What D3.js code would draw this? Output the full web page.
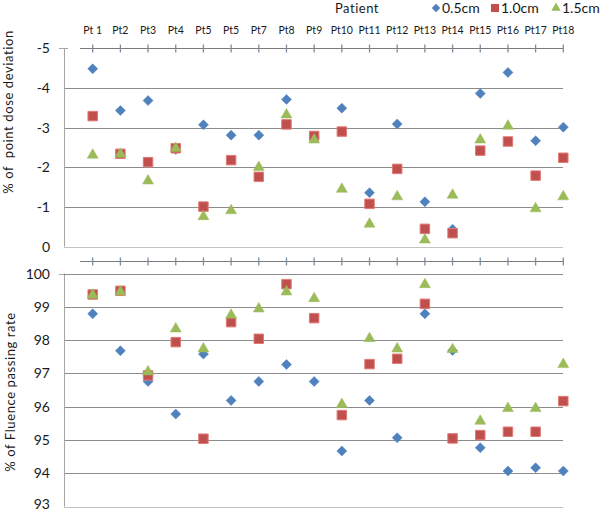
<!DOCTYPE html>
<html lang="en">
<head>
    <meta charset="UTF-8">
    <title>Point dose deviation and fluence passing rate</title>
    <script src="https://cdnjs.cloudflare.com/ajax/libs/d3/7.9.0/d3.min.js"></script>
    <style>
        body { margin: 0; background: white; }
        svg { display: block; font-family: Lato, "Open Sans", sans-serif; }
        .grid { stroke: #8c8c8c; stroke-width: 1; }
        .grid.base { stroke: #c4c4c4; }
        .yaxis { stroke: #a6a6a6; }
        .paxis { stroke: #7a7a7a; }
        .ptick { stroke: #7d8da0; stroke-width: 1.3; }
    </style>
</head>
<body>
<svg id="chart" width="604" height="513"></svg>
<script>
    const patients = ['Pt 1', 'Pt2', 'Pt3', 'Pt4', 'Pt5', 'Pt5', 'Pt7', 'Pt8', 'Pt9',
        'Pt10', 'Pt11', 'Pt12', 'Pt13', 'Pt14', 'Pt15', 'Pt16', 'Pt17', 'Pt18'];
    const seriesNames = ['0.5cm', '1.0cm', '1.5cm'];

    // % of point dose deviation
    const dose05 = [-4.48, -3.43, -3.68, -2.45, -3.07, -2.81, -2.81, -3.71, -2.75,
        -3.49, -1.36, -3.09, -1.13, -0.44, -3.86, -4.39, -2.67, -3.01];
    const dose10 = [-3.29, -2.34, -2.13, -2.48, -1.01, -2.18, -1.76, -3.08, -2.79,
        -2.90, -1.08, -1.96, -0.45, -0.34, -2.42, -2.65, -1.79, -2.24];
    const dose15 = [-2.31, -2.33, -1.66, -2.48, -0.76, -0.91, -2.00, -3.32, -2.69,
        -1.45, -0.57, -1.26, -0.17, -1.30, -2.69, -3.04, -0.96, -1.26];

    // % of fluence passing rate
    const flu05 = [98.79, 97.68, 96.76, 95.78, 97.58, 96.19, 96.76, 97.27, 96.76,
        94.67, 96.19, 95.07, 98.79, 97.69, 94.77, 94.07, 94.17, 94.07];
    const flu10 = [99.37, 99.48, 96.94, 97.94, 95.04, 98.54, 98.04, 99.68, 98.66,
        95.75, 97.28, 97.44, 99.09, 95.05, 95.15, 95.25, 95.25, 96.17];
    const flu15 = [99.35, 99.45, 97.05, 98.34, 97.74, 98.75, 98.94, 99.45, 99.25,
        96.07, 98.05, 97.74, 99.67, 97.72, 95.57, 95.95, 95.95, 97.27];

    const doseTicks = [-5, -4, -3, -2, -1, 0];
    const fluTicks = [93, 94, 95, 96, 97, 98, 99, 100];

    const colors = ['#4f81bd', '#c0504d', '#9bbb59'];
    const borders = ['#4f81bd', '#e07a77', '#9bbb59'];
    const shapes = [
        d3.symbol(d3.symbolSquare, 50)(),   // rotated into a diamond
        d3.symbol(d3.symbolSquare, 90)(),
        d3.symbol(d3.symbolTriangle, 52)()
    ];
    const rotations = [45, 0, 0];

    const svg = d3.select('#chart');
    const idx = d3.range(patients.length);
    const x = d3.scalePoint(idx, [92.7, 563.3]);
    const left = 64, right = 563;

    function panel(yScale, ticks, seriesList, axisY, label, labelY) {
        const g = svg.append('g');
        const [lo, hi] = d3.extent(ticks);
        const bottomVal = yScale(lo) > yScale(hi) ? lo : hi;
        const topVal = bottomVal === lo ? hi : lo;

        // gridlines
        g.selectAll('line.grid').data(ticks.filter(t => t !== topVal)).enter().append('line')
            .attr('class', t => t === bottomVal ? 'grid base' : 'grid')
            .attr('x1', left).attr('x2', right)
            .attr('y1', t => Math.round(yScale(t)) + 0.5).attr('y2', t => Math.round(yScale(t)) + 0.5);

        // left axis
        g.append('line').attr('class', 'yaxis')
            .attr('x1', left + 0.5).attr('x2', left + 0.5)
            .attr('y1', yScale(topVal)).attr('y2', yScale(bottomVal));
        g.append('line').attr('class', 'yaxis')
            .attr('x1', left - 5).attr('x2', left + 4)
            .attr('y1', Math.round(yScale(topVal)) + 0.5).attr('y2', Math.round(yScale(topVal)) + 0.5);
        if (topVal === hi) {
            g.append('line').attr('class', 'grid')
                .attr('x1', left).attr('x2', right)
                .attr('y1', Math.round(yScale(topVal)) + 0.5).attr('y2', Math.round(yScale(topVal)) + 0.5);
        }

        g.selectAll('text.ytick').data(ticks).enter().append('text')
            .attr('class', 'ytick')
            .attr('x', 50).attr('y', t => Math.min(yScale(t) + 5, 509))
            .attr('text-anchor', 'end')
            .attr('font-size', 14).attr('fill', '#1a1a1a')
            .text(t => t);

        // patient axis
        g.append('line').attr('class', 'paxis')
            .attr('x1', 80).attr('x2', right)
            .attr('y1', axisY + 0.5).attr('y2', axisY + 0.5);
        g.selectAll('line.ptick').data(idx).enter().append('line')
            .attr('class', 'ptick')
            .attr('x1', d => x(d)).attr('x2', d => x(d))
            .attr('y1', axisY - 3.5).attr('y2', axisY + 4.5);

        // y label
        g.append('text')
            .attr('transform', `translate(${label.x},${labelY}) rotate(-90)`)
            .attr('text-anchor', 'middle')
            .attr('font-size', 13).attr('fill', '#1a1a1a')
            .attr('letter-spacing', 0.6)
            .style('white-space', 'pre')
            .text(label.text);

        // markers
        seriesList.forEach((vals, s) => {
            g.selectAll(null).data(vals).enter().append('path')
                .attr('d', shapes[s])
                .attr('transform', (v, i) => `translate(${x(i)},${yScale(v)}) rotate(${rotations[s]})`)
                .attr('fill', colors[s])
                .attr('stroke', borders[s])
                .attr('stroke-width', s === 1 ? 1 : 0.5);
        });
    }

    const yDose = d3.scaleLinear([-5, 0], [48.2, 246.7]);
    const yFlu = d3.scaleLinear([93, 100], [506.7, 273.5]);

    panel(yDose, doseTicks, [dose05, dose10, dose15], 48, {x: 13, text: '% of  point dose deviation'}, 112);
    panel(yFlu, fluTicks, [flu05, flu10, flu15], 261, {x: 15, text: '% of Fluence passing rate'}, 392);

    // patient labels along the top
    svg.selectAll('text.pt').data(idx).enter().append('text')
        .attr('class', 'pt')
        .attr('x', d => x(d)).attr('y', 34)
        .attr('text-anchor', 'middle')
        .attr('font-size', 10.5).attr('fill', '#1a1a1a')
        .text(d => patients[d]);

    svg.append('text')
        .attr('x', 357).attr('y', 13)
        .attr('text-anchor', 'middle')
        .attr('font-size', 13).attr('fill', '#1a1a1a')
        .attr('letter-spacing', 0.5)
        .text('Patient');

    // legend
    const legendX = [436, 495, 556];
    const legend = svg.selectAll('g.leg').data(seriesNames).enter().append('g')
        .attr('class', 'leg')
        .attr('transform', (d, i) => `translate(${legendX[i]},8)`);
    legend.append('path')
        .attr('d', (d, i) => shapes[i])
        .attr('transform', (d, i) => `rotate(${rotations[i]}) scale(0.85)`)
        .attr('fill', (d, i) => colors[i]);
    legend.append('text')
        .attr('x', 6).attr('y', 5)
        .attr('font-size', 14).attr('fill', '#1a1a1a')
        .text(d => d);
</script>
</body>
</html>
